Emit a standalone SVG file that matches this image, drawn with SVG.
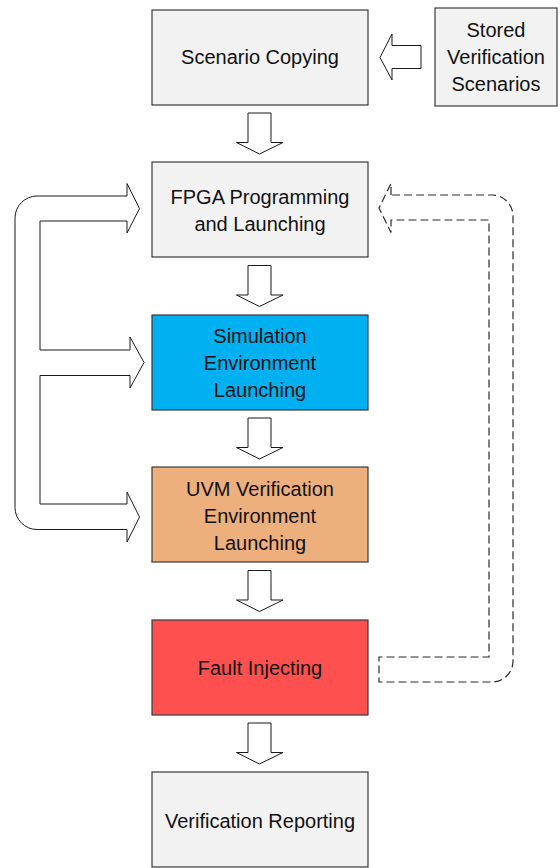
<svg xmlns="http://www.w3.org/2000/svg" width="560" height="868" viewBox="0 0 560 868">
  <defs>
    <style>
      .box { stroke: #3a3a3a; stroke-width: 1.2; }
      .grey { fill: #f2f2f2; }
      .blue { fill: #00b0f0; }
      .peach { fill: #edb07c; }
      .red { fill: #ff5050; }
      .lbl { font-family: "Liberation Sans", Arial, sans-serif; font-size: 20px; fill: #111; text-anchor: middle; }
      .blk { fill: #ffffff; stroke: #1a1a1a; stroke-width: 1; stroke-linejoin: miter; }
      .dash { fill: none; stroke: #2a2a2a; stroke-width: 1.2; stroke-dasharray: 8 4; }
    </style>
    <!-- hollow down arrow, drawn with its shaft top at y=0 -->
    <path id="down" d="M248,0 L271,0 L271,29.5 L283,29.5 L259.5,41 L236.5,29.5 L248,29.5 Z"/>
  </defs>

  <rect width="560" height="868" fill="#ffffff"/>

  <g id="scenario-copying">
    <rect class="box grey" x="152" y="10" width="216" height="95"/>
    <text class="lbl" x="260" y="64">Scenario Copying</text>
  </g>

  <g id="stored-scenarios">
    <rect class="box grey" x="435" y="8" width="122" height="98"/>
    <text class="lbl" x="496" y="37">Stored</text>
    <text class="lbl" x="496" y="64">Verification</text>
    <text class="lbl" x="496" y="91">Scenarios</text>
  </g>

  <g id="fpga-programming">
    <rect class="box grey" x="152" y="162" width="216" height="95"/>
    <text class="lbl" x="260" y="204">FPGA Programming</text>
    <text class="lbl" x="260" y="231">and Launching</text>
  </g>

  <g id="simulation-env">
    <rect class="box blue" x="152" y="315" width="216" height="95"/>
    <text class="lbl" x="260" y="343">Simulation</text>
    <text class="lbl" x="260" y="370">Environment</text>
    <text class="lbl" x="260" y="397">Launching</text>
  </g>

  <g id="uvm-env">
    <rect class="box peach" x="152" y="467" width="216" height="95"/>
    <text class="lbl" x="260" y="496">UVM Verification</text>
    <text class="lbl" x="260" y="523">Environment</text>
    <text class="lbl" x="260" y="550">Launching</text>
  </g>

  <g id="fault-injecting">
    <rect class="box red" x="152" y="620" width="216" height="95"/>
    <text class="lbl" x="260" y="675">Fault Injecting</text>
  </g>

  <g id="verification-reporting">
    <rect class="box grey" x="152" y="772" width="216" height="95"/>
    <text class="lbl" x="260" y="828" font-size="20.8">Verification Reporting</text>
  </g>

  <g id="connectors">
    <!-- stored scenarios feed the copying step -->
    <path class="blk" d="M421,45.5 L392,45.5 L392,34 L380,57.5 L392,80 L392,68.5 L421,68.5 Z"/>

    <!-- flow down the main column -->
    <use href="#down" class="blk" transform="translate(0,113)"/>
    <use href="#down" class="blk" transform="translate(0,265.5)"/>
    <use href="#down" class="blk" transform="translate(0,418)"/>
    <use href="#down" class="blk" transform="translate(0,570.5)"/>
    <use href="#down" class="blk" transform="translate(0,723)"/>

    <!-- branching bracket on the left feeding three launch steps -->
    <path class="blk" d="M127,196 L127,183.5 L139.5,208.5 L127,233 L127,221 L40,221 L40,350 L130,350 L130,337 L144,362.5 L130,388 L130,375.5 L40,375.5 L40,504 L127,504 L127,492 L139.5,517 L127,542 L127,529.5 L37,529.5 A22,22 0 0 1 15,507.5 L15,218 A22,22 0 0 1 37,196 Z"/>

    <!-- dashed return from fault injection back to programming -->
    <path class="dash" d="M391,195 L391,183.5 L379,208 L391,232.5 L391,220 L489,220 L489,657 L379,657 L379,682 L492,682 A21,21 0 0 0 513,661 L513,216 A21,21 0 0 0 492,195 Z"/>
  </g>
</svg>
